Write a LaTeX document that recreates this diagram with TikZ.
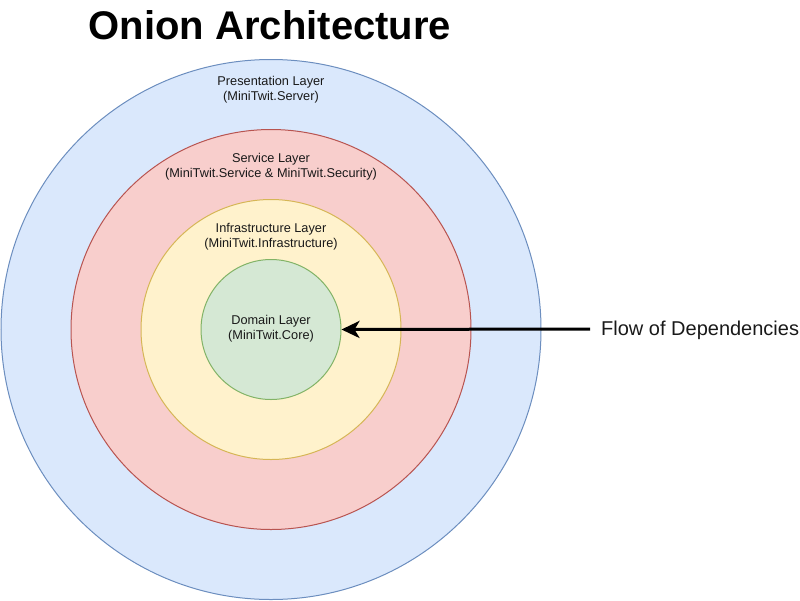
\documentclass[tikz,border=0pt]{standalone}
\usepackage{fontspec}
\setmainfont{Liberation Sans}
\usetikzlibrary{arrows.meta}
\definecolor{bluefill}{HTML}{DAE8FC}\definecolor{bluedraw}{HTML}{6C8EBF}
\definecolor{redfill}{HTML}{F8CECC}\definecolor{reddraw}{HTML}{B85450}
\definecolor{yelfill}{HTML}{FFF2CC}\definecolor{yeldraw}{HTML}{D6B656}
\definecolor{grnfill}{HTML}{D5E8D4}\definecolor{grndraw}{HTML}{82B366}
\tikzset{
  ring/.style={circle, inner sep=0pt, line width=1pt, minimum size=#1},
  layertext/.style={align=center, font=\fontsize{12.75}{15}\selectfont, text=black!90, inner sep=0pt},
}
\begin{document}
\begin{tikzpicture}[x=1pt,y=-1pt]
\useasboundingbox (0,0) rectangle (800,600);
\node[ring=540pt, fill=bluefill, draw=bluedraw] (pres) at (271,329.5) {};
\node[ring=400pt, fill=redfill, draw=reddraw] (serv) at (271,329.5) {};
\node[ring=260pt, fill=yelfill, draw=yeldraw] (infra) at (271,329.5) {};
\node[ring=140pt, fill=grnfill, draw=grndraw] (core) at (271,329.5) {};
\node[font=\fontsize{40}{48}\selectfont\bfseries, anchor=base, inner sep=0pt] (title) at (270,39) {Onion Architecture};
\node[layertext] (presT) at (271,89.5) {Presentation Layer\\(MiniTwit.Server)};
\node[layertext] (servT) at (271,166.5) {Service Layer\\(MiniTwit.Service \& MiniTwit.Security)};
\node[layertext] (infraT) at (271,236.5) {Infrastructure Layer\\(MiniTwit.Infrastructure)};
\node[layertext] (coreT) at (271,329) {Domain Layer\\(MiniTwit.Core)};
\node[anchor=west, inner sep=0pt, font=\fontsize{20}{24}\selectfont, text=black!90] (flow) at (601,330) {Flow of Dependencies};
\coordinate (src) at (590,329);
\draw[line width=3pt, -{Stealth[length=18pt, width=17pt, inset=5pt]}] (src) -- (core.east);
\end{tikzpicture}
\end{document}
